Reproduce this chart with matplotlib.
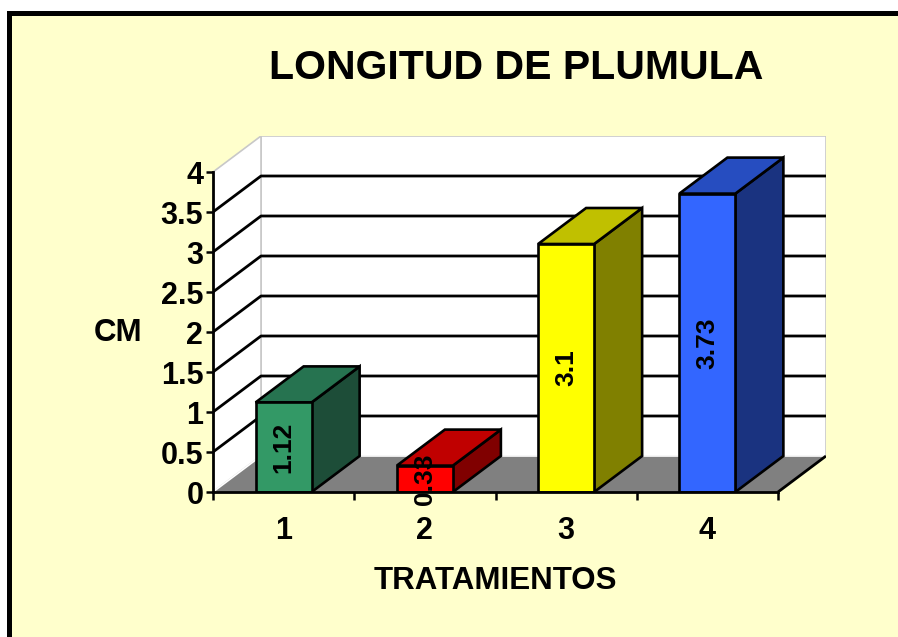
import numpy as np
import matplotlib
matplotlib.use("Agg")
import matplotlib.pyplot as plt
from matplotlib.patches import Polygon, Rectangle

plt.rcParams['font.family'] = ['Liberation Sans', 'DejaVu Sans']
plt.rcParams['font.weight'] = 'bold'

# ---- data ----
categories = ['1', '2', '3', '4']
values = [1.12, 0.33, 3.1, 3.73]
value_labels = ['1.12', '0.33', '3.1', '3.73']
front_colors = ['#339966', '#FF0000', '#FFFF00', '#3366FF']
top_colors = ['#267350', '#C00000', '#C0C000', '#264DC0']
side_colors = ['#1D4D38', '#800000', '#808000', '#1A3380']
yticks = [0, 0.5, 1, 1.5, 2, 2.5, 3, 3.5, 4]
ytick_labels = ['0', '0.5', '1', '1.5', '2', '2.5', '3', '3.5', '4']
title = 'LONGITUD DE PLUMULA'
xlabel = 'TRATAMIENTOS'
ylabel = 'CM'

W, H = 898, 637
fig = plt.figure(figsize=(W / 100, H / 100), dpi=100)
fig.patch.set_facecolor('white')

# slide background with black frame (top/left visible)
frame = Rectangle((8.5 / W, -0.1), 1.2, 1 - 12.5 / H + 0.1, transform=fig.transFigure,
                  facecolor='#FFFFCC', edgecolor='black', linewidth=3.6, zorder=-10)
fig.patches.append(frame)

# 3D depth offsets in data units
DX = 48 / 141.25
DY = 36 / 80.0
ymax = 4.0
x0, x1 = 0.5, len(categories) + 0.5

ax = fig.add_axes([213 / W, (H - 492) / H, (826 - 213) / W, (492 - 136) / H])
ax.set_zorder(5)
ax.set_xlim(x0, x1 + DX)
ax.set_ylim(0, ymax + DY)
ax.patch.set_alpha(0)
for s in ['top', 'right']:
    ax.spines[s].set_visible(False)

# walls
back = Polygon([(x0 + DX, DY), (x1 + DX, DY), (x1 + DX, ymax + DY), (x0 + DX, ymax + DY)],
               closed=True, facecolor='white', edgecolor='#C8C8C8', linewidth=1.2, zorder=1)
side = Polygon([(x0, 0), (x0 + DX, DY), (x0 + DX, ymax + DY), (x0, ymax)],
               closed=True, facecolor='white', edgecolor='#C8C8C8', linewidth=1.2, zorder=1)
floor = Polygon([(x0, 0), (x1, 0), (x1 + DX, DY), (x0 + DX, DY)],
                closed=True, facecolor='#808080', edgecolor='none', zorder=1.5)
ax.add_patch(back)
ax.add_patch(side)
ax.add_patch(floor)
ax.plot([x0, x0 + DX, x1 + DX], [0, DY, DY], color='white', lw=1.2, zorder=1.6)
ax.plot([x1, x1 + DX], [0, DY], color='black', lw=2.0, zorder=1.7, solid_capstyle='butt')

# gridlines
for v in yticks:
    if 0 < v < ymax:
        ax.plot([x0, x0 + DX, x1 + DX], [v, v + DY, v + DY], color='black', lw=2.0, zorder=2)

# bars
hw = 28 / 141.25
for i, (v, fc, tc, sc) in enumerate(zip(values, front_colors, top_colors, side_colors)):
    c = i + 1
    sidep = Polygon([(c + hw, 0), (c + hw + DX, DY), (c + hw + DX, v + DY), (c + hw, v)],
                    closed=True, facecolor=sc, edgecolor='black', linewidth=1.9, zorder=3 + i,
                    joinstyle='miter')
    topp = Polygon([(c - hw, v), (c + hw, v), (c + hw + DX, v + DY), (c - hw + DX, v + DY)],
                   closed=True, facecolor=tc, edgecolor='black', linewidth=1.9, zorder=3 + i,
                   joinstyle='miter')
    ax.add_patch(sidep)
    ax.add_patch(topp)
    ax.bar(c, v, width=2 * hw, color=fc, edgecolor='black', linewidth=1.9, zorder=3.5 + i)
    ax.text(c, v / 2, value_labels[i], rotation=90, ha='center', va='center',
            fontsize=19, fontweight='bold', color='black', zorder=10)

# axes
ax.spines['left'].set_bounds(0, ymax)
ax.spines['bottom'].set_bounds(x0, x1)
ax.spines['left'].set_linewidth(2.0)
ax.spines['bottom'].set_linewidth(2.0)
ax.spines['left'].set_zorder(20)
ax.spines['bottom'].set_zorder(20)

ax.set_yticks(yticks)
ax.set_yticklabels(ytick_labels)
ax.tick_params(axis='y', direction='out', length=5, width=1.8, pad=2, labelsize=22)

ax.set_xticks(np.arange(x0, x1 + 0.01, 1.0))
ax.set_xticklabels([])
ax.tick_params(axis='x', which='major', direction='out', length=6, width=1.8)
ax.set_xticks(np.arange(1, len(categories) + 1), minor=True)
ax.set_xticklabels(categories, minor=True)
ax.tick_params(axis='x', which='minor', length=0, pad=17, labelsize=22)

fig.text(516 / W, 1 - 68 / H, title, ha='center', va='center', fontsize=29.5, fontweight='bold')
fig.text(118 / W, 1 - 333 / H, ylabel, ha='center', va='center', fontsize=22.5, fontweight='bold')
fig.text(495 / W, 1 - 581 / H, xlabel, ha='center', va='center', fontsize=22.5, fontweight='bold')

fig.savefig('out.png', dpi=100, facecolor=fig.get_facecolor())
